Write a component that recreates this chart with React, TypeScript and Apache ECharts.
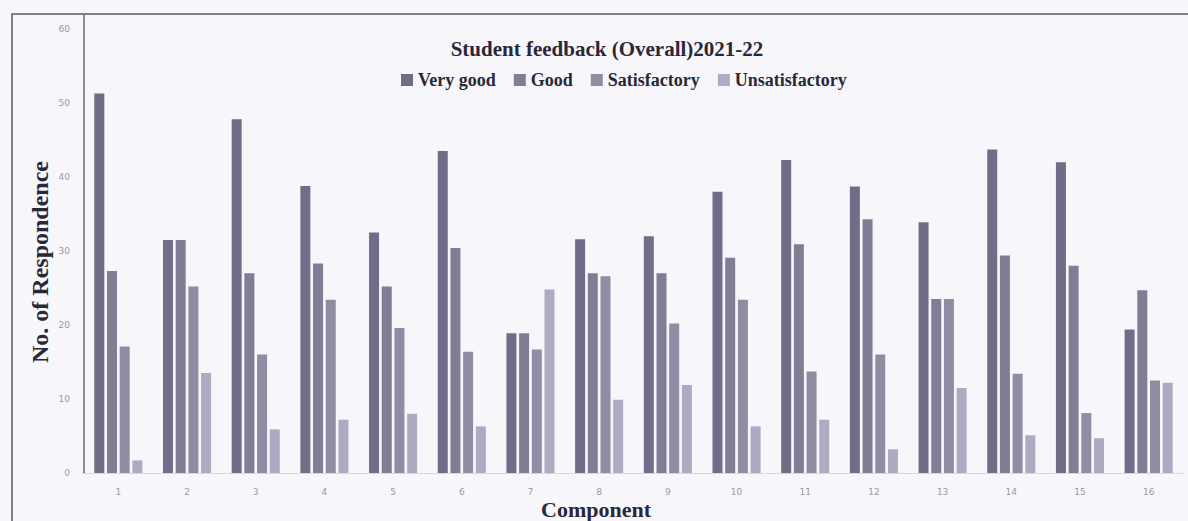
import React, { useEffect, useRef } from "react";
import * as echarts from "echarts";

const categories = ["1", "2", "3", "4", "5", "6", "7", "8", "9", "10", "11", "12", "13", "14", "15", "16"];
const veryGood = [51.3, 31.5, 47.8, 38.8, 32.5, 43.5, 18.9, 31.6, 32.0, 38.0, 42.3, 38.7, 33.9, 43.7, 42.0, 19.4];
const good = [27.3, 31.5, 27.0, 28.3, 25.2, 30.4, 18.9, 27.0, 27.0, 29.1, 30.9, 34.3, 23.5, 29.4, 28.0, 24.7];
const satisfactory = [17.1, 25.2, 16.0, 23.4, 19.6, 16.4, 16.7, 26.6, 20.2, 23.4, 13.7, 16.0, 23.5, 13.4, 8.1, 12.5];
const unsatisfactory = [1.7, 13.5, 5.9, 7.2, 8.0, 6.3, 24.8, 9.9, 11.9, 6.3, 7.2, 3.2, 11.5, 5.1, 4.7, 12.2];
const seriesNames = ["Very good", "Good", "Satisfactory", "Unsatisfactory"];
const colors = ["#716c87", "#827c95", "#918ba4", "#afaac2"];
const yTicks = { min: 0, max: 60, interval: 10 };

export default function App() {
  const ref = useRef<HTMLDivElement>(null);
  useEffect(() => {
    if (!ref.current) return;
    const chart = echarts.init(ref.current, undefined, { renderer: "svg" });
    const data = [veryGood, good, satisfactory, unsatisfactory];
    chart.setOption({
      animation: false,
      backgroundColor: "#f7f6fb",
      color: colors,
      title: {
        text: "Student feedback (Overall)2021-22",
        left: 602,
        top: 33,
        textAlign: "center",
        textStyle: { fontFamily: "Liberation Serif", fontWeight: "bold", fontSize: 21, color: "#2a2838" },
      },
      legend: {
        data: seriesNames,
        left: 396,
        top: 66,
        itemWidth: 12,
        itemHeight: 12,
        itemGap: 18,
        icon: "rect",
        textStyle: { fontFamily: "Liberation Serif", fontWeight: "bold", fontSize: 18, color: "#2a2838" },
      },
      grid: { left: 84, right: 5, top: 29, bottom: 48, containLabel: false },
      xAxis: {
        type: "category",
        data: categories,
        axisLine: { show: true, lineStyle: { color: "#d8d6e0", width: 1 } },
        axisTick: { show: false },
        axisLabel: { fontFamily: "DejaVu Sans", fontSize: 9, color: "#9a98a6", margin: 14 },
      },
      yAxis: {
        type: "value",
        min: yTicks.min,
        max: yTicks.max,
        interval: yTicks.interval,
        axisLine: { show: true, lineStyle: { color: "#6a6878", width: 1.5 } },
        axisTick: { show: false },
        splitLine: { show: false },
        axisLabel: { fontFamily: "DejaVu Sans", fontSize: 9, color: "#9a98a6", margin: 14 },
      },
      graphic: [
        { type: "rect", shape: { x: 12, y: 14, width: 1200, height: 540 }, style: { fill: "none", stroke: "#5a5866", lineWidth: 1.5 }, silent: true },
        { type: "line", shape: { x1: 84, y1: 14, x2: 84, y2: 29 }, style: { stroke: "#6a6878", lineWidth: 1.5 }, silent: true },
        {
          type: "text",
          x: 40,
          y: 262,
          rotation: Math.PI / 2,
          style: { text: "No. of Respondence", fontFamily: "Liberation Serif", fontWeight: "bold", fontSize: 24, fill: "#2a2838", textAlign: "center", textVerticalAlign: "middle" },
          silent: true,
        },
        {
          type: "text",
          x: 596,
          y: 509,
          style: { text: "Component", fontFamily: "Liberation Serif", fontWeight: "bold", fontSize: 22, fill: "#2a2838", textAlign: "center", textVerticalAlign: "middle" },
          silent: true,
        },
      ],
      series: seriesNames.map((name, i) => ({
        name,
        type: "bar",
        data: data[i],
        barGap: "27%",
        barCategoryGap: "30%",
        itemStyle: { color: colors[i] },
      })),
    });
    return () => chart.dispose();
  }, []);
  return <div ref={ref} style={{ position: "fixed", left: 0, top: 0, width: 1188, height: 521 }} />;
}
